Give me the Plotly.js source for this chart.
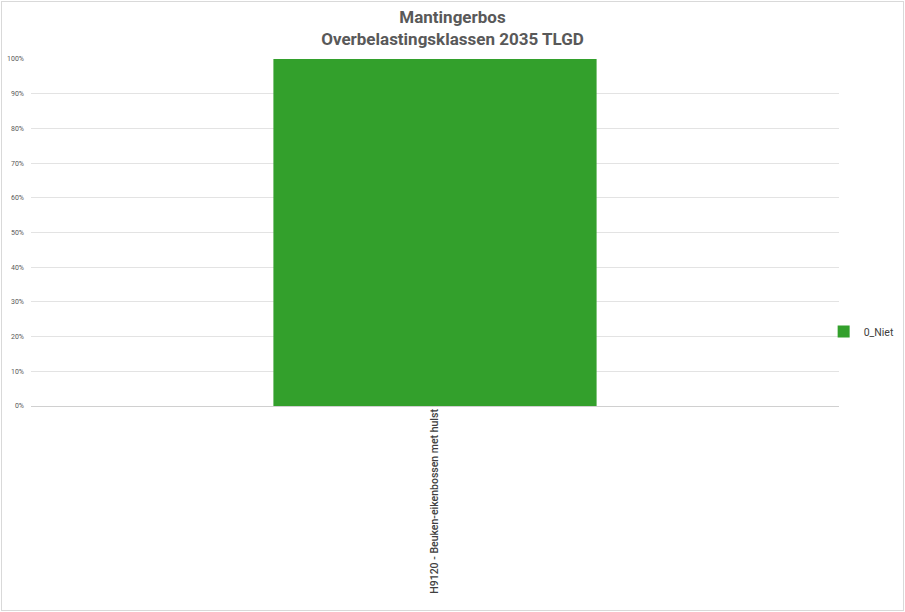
<!DOCTYPE html>
<html>
<head>
<meta charset="utf-8">
<script src="https://cdn.plot.ly/plotly-3.0.1.min.js"></script>
<style>
  body { margin: 0; background: #fff; }
  #plot { position: absolute; left: 1px; top: 1px; width: 901px; height: 608px; border: 1px solid #d9d9d9; }
</style>
</head>
<body>
<div id="plot"></div>
<script>
// chart data
const categories = ['H9120 - Beuken-eikenbossen met hulst'];
const seriesName = '0_Niet';
const seriesValues = [1.0];
const tickValues = [0, 0.1, 0.2, 0.3, 0.4, 0.5, 0.6, 0.7, 0.8, 0.9, 1.0];
const tickLabels = ['0%', '10%', '20%', '30%', '40%', '50%', '60%', '70%', '80%', '90%', '100%'];

const data = [
  {
    x: categories,
    y: seriesValues,
    type: 'bar',
    name: seriesName,
    marker: { color: '#33a02c' },
    hoverinfo: 'none',
  },
];

const layout = {
  width: 901,
  height: 608,
  title: {
    text: '<b>Mantingerbos</b><br><b>Overbelastingsklassen 2035 TLGD</b>',
    font: { family: 'Roboto, sans-serif', size: 17, color: '#595959' },
    x: 0.5,
    xanchor: 'center',
    xref: 'container',
    yref: 'container',
    y: 0.965,
    yanchor: 'middle',
  },
  showlegend: true,
  legend: {
    x: 0.981,
    xanchor: 'left',
    y: 0.215,
    yanchor: 'middle',
    font: { family: 'Roboto, sans-serif', size: 10.5, color: '#404040' },
    itemwidth: 30,
    bgcolor: 'rgba(0,0,0,0)',
  },
  bargap: 0.6,
  xaxis: {
    type: 'category',
    tickangle: -90,
    tickfont: { family: 'Roboto, sans-serif', size: 10.5, color: '#404040', weight: 500 },
    showgrid: false,
    showline: false,
    ticks: '',
    fixedrange: true,
  },
  yaxis: {
    range: [0, 1],
    tickvals: tickValues,
    ticktext: tickLabels,
    tickfont: { family: 'Roboto, sans-serif', size: 7, color: '#595959' },
    gridcolor: '#e3e3e3',
    gridwidth: 1,
    zeroline: true,
    zerolinecolor: '#d0d0d0',
    showline: false,
    ticks: '',
    ticklabelstandoff: 6,
    fixedrange: true,
  },
  margin: { l: 29, r: 64, t: 57, b: 204, autoexpand: false },
  paper_bgcolor: '#ffffff',
  plot_bgcolor: '#ffffff',
};

Plotly.newPlot('plot', data, layout, { displayModeBar: false, staticPlot: true });
</script>
</body>
</html>
